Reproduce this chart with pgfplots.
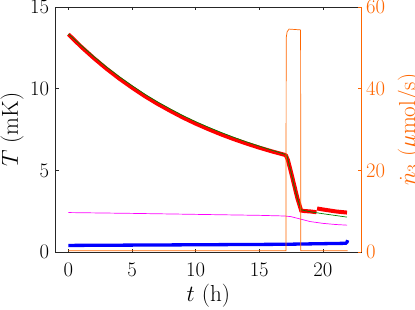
\documentclass[border=0pt]{standalone}
\usepackage{fontspec}
\usepackage{graphicx}
\usepackage{pgfplots}
\pgfplotsset{compat=1.18}
\definecolor{mor}{RGB}{255,102,0}
\definecolor{mgray}{RGB}{38,38,38}
\definecolor{mgreen}{RGB}{0,128,0}
\definecolor{mmag}{RGB}{255,0,255}
\begin{document}
\begin{tikzpicture}
\pgfplotsset{
  every axis/.append style={
    scale only axis, width=305.3bp, height=245.3bp,
    xmin=-1, xmax=23,
    tick align=inside, major tick length=3.5bp,
    axis line style={line width=0.6bp},
    every tick/.style={line width=0.6bp},
    tick label style={font=\fontsize{20.74}{25}\selectfont, inner sep=0pt},
    label style={font=\fontsize{20.74}{25}\selectfont},
  },
}
\begin{axis}[
  ymin=0, ymax=15,
  ytick={0,5,10,15}, xtick={0,5,10,15,20},
  ytick pos=left, xtick pos=both,
  axis line style={mgray, line width=0.6bp},
  every tick/.style={mgray, line width=0.6bp},
  xticklabel style={anchor=north, yshift=-10.5bp, text=black},
  yticklabel style={anchor=east, xshift=-6.4bp, text=black},
  xlabel={\scalebox{1.12}{$t$ (h)}}, ylabel={\scalebox{1.12}{$T$ (mK)}},
  xlabel style={at={(axis description cs:0.5,-0.178)}, anchor=center},
  ylabel style={at={(axis description cs:-0.143,0.5)}, anchor=center, rotate=0},
]
\addplot[mmag, line width=0.7bp] coordinates {
(0,2.43)(5,2.38)(10,2.32)(15,2.26)(17,2.22)(17.5,2.18)(18,2.08)(18.5,1.98)(19,1.88)(20,1.77)(21,1.70)(21.9,1.66)};
\addplot[blue, line width=3.3bp] coordinates {
(0,0.42)(5,0.44)(10,0.46)(17,0.49)(21.8,0.55)(21.9,0.62)(21.95,0.74)};
\addplot[red, line width=4bp] coordinates {
(0,13.33)(1,12.57)(2,11.87)(3,11.22)(4,10.62)(5,10.07)(6,9.55)(7,9.08)(8,8.65)(9,8.24)(10,7.87)(11,7.53)(12,7.21)(13,6.92)(14,6.65)(15,6.40)(16,6.17)(17,5.96)(17.1,5.92)(17.25,5.65)(17.5,4.9)(17.75,4.1)(18.0,3.3)(18.3,2.55)(18.6,2.52)(19.0,2.5)(19.5,2.45)};
\addplot[red, line width=4bp] coordinates {
(19.55,2.68)(20,2.62)(20.5,2.56)(21,2.5)(21.5,2.46)(21.9,2.43)};
\addplot[mgreen, line width=0.7bp] coordinates {
(0,13.35)(1,12.65)(2,11.97)(3,11.33)(4,10.74)(5,10.19)(6,9.67)(7,9.20)(8,8.77)(9,8.36)(10,7.99)(11,7.65)(12,7.33)(13,7.03)(14,6.75)(15,6.49)(16,6.24)(17,6.0)(17.2,5.85)(17.5,4.9)(17.75,4.05)(18.0,3.3)(18.3,2.6)(19,2.48)(20,2.36)(21,2.25)(21.9,2.15)};
\end{axis}
\begin{axis}[
  ymin=0, ymax=60, ytick={0,20,40,60},
  axis y line*=right, axis x line=none,
  y axis line style={mor, line width=0.6bp},
  every tick/.style={mor, line width=0.6bp},
  yticklabel style={anchor=west, xshift=5bp, text=mor},
  ylabel={\scalebox{1.12}{$\dot{n}_3$ ($\mu$mol/s)}},
  ylabel style={at={(axis description cs:1.158,0.5)}, anchor=center, rotate=0, text=mor},
]
\addplot[mor, line width=0.7bp] coordinates {
(0,0.4)(17.1,0.4)(17.12,52.5)(17.2,54.0)(17.35,54.6)(18.25,54.4)(18.27,0.4)(21.95,0.4)};
\end{axis}
\pgfresetboundingbox
\path[use as bounding box] (-55.7bp,-57.7bp) rectangle (359.3bp,252.3bp);
\end{tikzpicture}
\end{document}
